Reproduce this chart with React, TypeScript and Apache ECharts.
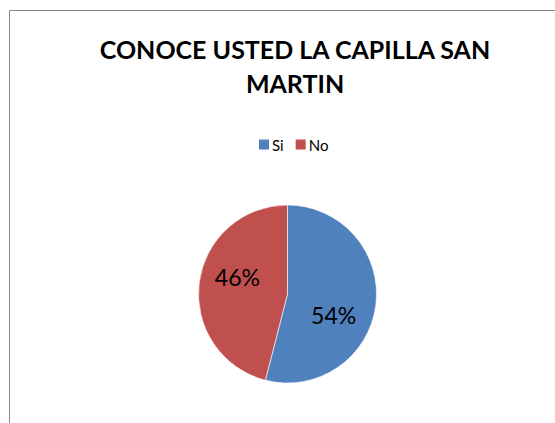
import React, { useEffect, useRef } from "react";
import * as echarts from "echarts";

const TITLE_LINES = ["CONOCE USTED LA CAPILLA SAN", "MARTIN"];
const CATEGORIES = ["Si", "No"];
const VALUES = [54, 46];
const COLORS = ["#4F81BD", "#C0504D"];

export default function App() {
  const ref = useRef<HTMLDivElement>(null);
  useEffect(() => {
    if (!ref.current) return;
    const chart = echarts.init(ref.current, undefined, { renderer: "svg" });
    chart.setOption({
      animation: false,
      backgroundColor: "#ffffff",
      title: {
        text: TITLE_LINES.join("\n"),
        left: 290,
        top: 27,
        textAlign: "center",
        textStyle: {
          fontFamily: "Lato",
          fontWeight: "bold",
          fontSize: 25,
          lineHeight: 34,
          color: "#000000",
        },
      },
      legend: {
        data: CATEGORIES,
        left: 254,
        top: 132,
        icon: "rect",
        itemWidth: 10,
        itemHeight: 10,
        itemGap: 12,
        itemStyle: { borderWidth: 0 },
        textStyle: { fontFamily: "Lato", fontSize: 15, color: "#000", padding: [0, 0, 0, -2] },
      },
      graphic: [
        {
          type: "rect",
          shape: { x: 9.5, y: 10.5, width: 700, height: 600 },
          style: { fill: "none", stroke: "#8a8a8a", lineWidth: 1 },
          silent: true,
        },
      ],
      series: [
        {
          type: "pie",
          center: [287.5, 294],
          radius: 89,
          startAngle: 90,
          clockwise: true,
          data: CATEGORIES.map((c, i) => ({
            name: c,
            value: VALUES[i],
            itemStyle: { color: COLORS[i] },
          })),
          itemStyle: { borderColor: "#ffffff", borderWidth: 0.6 },
          label: {
            show: true,
            position: "inside",
            formatter: "{d}%",
            fontFamily: "Lato",
            fontSize: 23,
            color: "#000",
          },
          labelLine: { show: false },
          labelLayout: (p: any) =>
            p.dataIndex === 0 ? { dx: -1, dy: 15 } : { dx: -3, dy: -11 },
        },
      ],
    });
    return () => chart.dispose();
  }, []);
  return (
    <div
      ref={ref}
      style={{ position: "fixed", left: 0, top: 0, width: 555, height: 423 }}
    />
  );
}
